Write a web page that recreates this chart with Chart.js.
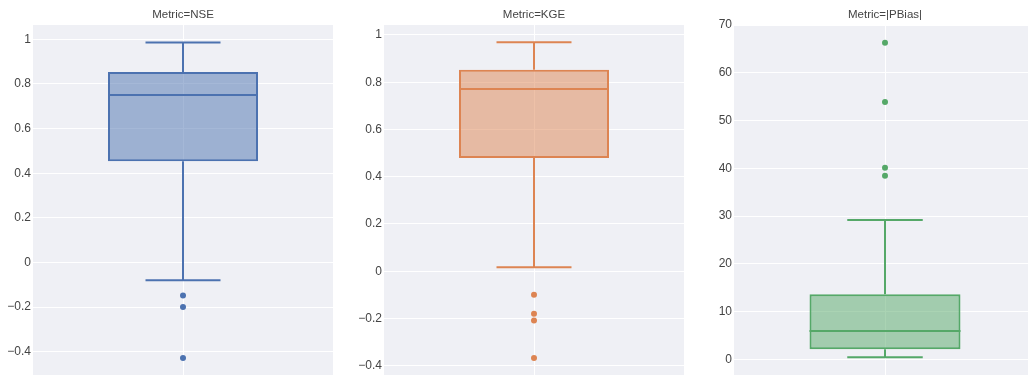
<!DOCTYPE html>
<html>
<head>
<meta charset="utf-8">
<script src="https://cdn.jsdelivr.net/npm/chart.js@4/dist/chart.umd.min.js"></script>
<style>
  html, body { margin: 0; padding: 0; background: #ffffff; width: 1028px; height: 375px; overflow: hidden; }
  canvas { position: absolute; top: 0; }
</style>
</head>
<body>
<canvas id="panel0" width="333" height="375" style="left:0px"></canvas>
<canvas id="panel1" width="333" height="375" style="left:351px"></canvas>
<canvas id="panel2" width="335" height="375" style="left:701px"></canvas>
<script>
// Box-plot summary per metric
const metrics = ['NSE', 'KGE', '|PBias|'];
const lowerWhisker = [-0.079, 0.017, 0.42];
const q1Values = [0.454, 0.479, 2.09];
const medianValues = [0.750, 0.771, 5.93];
const q3Values = [0.853, 0.853, 13.61];
const upperWhisker = [0.986, 0.969, 29.17];

// Points beyond the whiskers
const outliersNSE = [-0.148, -0.199, -0.428];
const outliersKGE = [-0.099, -0.180, -0.208, -0.367];
const outliersPBias = [38.44, 40.12, 53.87, 66.29];

// Y-axis tick values
const ticksNSE = [-0.4, -0.2, 0, 0.2, 0.4, 0.6, 0.8, 1];
const ticksKGE = [-0.4, -0.2, 0, 0.2, 0.4, 0.6, 0.8, 1];
const ticksPBias = [0, 10, 20, 30, 40, 50, 60, 70];

const panels = [
  { outliers: outliersNSE, ticks: ticksNSE, min: -0.504, max: 1.064, rgb: '76,114,176' },
  { outliers: outliersKGE, ticks: ticksKGE, min: -0.439, max: 1.042, rgb: '221,132,82' },
  { outliers: outliersPBias, ticks: ticksPBias, min: -3.29, max: 70.0, rgb: '85,168,104' }
];

const FONT = "'Liberation Sans', Arial, sans-serif";

// Fills the plotting area with the light panel colour
const plotBackground = {
  id: 'plotBackground',
  beforeDraw(chart) {
    const { ctx, chartArea: a } = chart;
    ctx.save();
    ctx.fillStyle = '#EFF0F5';
    ctx.fillRect(a.left, a.top, a.width, a.height);
    ctx.restore();
  }
};

// Whiskers, caps and median line, positioned through the y scale
const boxWhiskers = {
  id: 'boxWhiskers',
  afterDatasetsDraw(chart, args, opts) {
    const i = opts.index;
    const bar = chart.getDatasetMeta(0).data[0];
    const ys = chart.scales.y;
    const py = v => ys.getPixelForValue(v);
    const cx = bar.x;
    const half = bar.width / 2;
    const cap = bar.width / 4;
    const ctx = chart.ctx;
    ctx.save();
    ctx.strokeStyle = opts.color;
    ctx.lineWidth = 2;
    ctx.lineCap = 'butt';
    const seg = (x1, y1, x2, y2) => { ctx.beginPath(); ctx.moveTo(x1, y1); ctx.lineTo(x2, y2); ctx.stroke(); };
    seg(cx, py(q3Values[i]), cx, py(upperWhisker[i]));
    seg(cx, py(q1Values[i]), cx, py(lowerWhisker[i]));
    seg(cx - cap, py(upperWhisker[i]), cx + cap, py(upperWhisker[i]));
    seg(cx - cap, py(lowerWhisker[i]), cx + cap, py(lowerWhisker[i]));
    seg(cx - half, py(medianValues[i]), cx + half, py(medianValues[i]));
    ctx.restore();
  }
};

const fmt = v => {
  const s = String(Number(v.toFixed(1)));
  return s.replace('-', '\u2212');
};

panels.forEach((p, i) => {
  const solid = 'rgb(' + p.rgb + ')';
  const faded = 'rgba(' + p.rgb + ',0.5)';
  new Chart(document.getElementById('panel' + i), {
    type: 'bar',
    data: {
      labels: [metrics[i]],
      datasets: [
        {
          type: 'bar',
          data: [[q1Values[i], q3Values[i]]],
          backgroundColor: faded,
          borderColor: solid,
          borderWidth: 2,
          borderSkipped: false,
          barPercentage: 0.5,
          categoryPercentage: 1
        },
        {
          type: 'line',
          data: p.outliers.map(v => ({ x: metrics[i], y: v })),
          showLine: false,
          pointRadius: 3,
          pointHoverRadius: 3,
          pointBackgroundColor: solid,
          pointBorderWidth: 0
        }
      ]
    },
    options: {
      responsive: false,
      animation: false,
      events: [],
      layout: { padding: 0, autoPadding: false },
      plugins: {
        legend: { display: false },
        tooltip: { enabled: false },
        title: {
          display: true,
          text: 'Metric=' + metrics[i],
          fullSize: false,
          color: '#444',
          font: { family: FONT, size: 11.5, weight: 'normal' },
          padding: { top: 8, bottom: 3.2 }
        },
        boxWhiskers: { index: i, color: solid }
      },
      scales: {
        x: {
          type: 'category',
          offset: true,
          grid: { color: '#ffffff', lineWidth: 1, offset: false, drawTicks: false },
          border: { display: false },
          ticks: { display: false }
        },
        y: {
          min: p.min,
          max: p.max,
          afterBuildTicks: s => { s.ticks = p.ticks.map(v => ({ value: v })); },
          afterFit: s => { s.width = 33; s.paddingTop = 0; s.paddingBottom = 0; },
          grid: { color: '#ffffff', lineWidth: 1, drawTicks: false },
          border: { display: false },
          ticks: {
            padding: 2,
            color: '#444',
            font: { family: FONT, size: 12 },
            callback: v => fmt(v)
          }
        }
      }
    },
    plugins: [plotBackground, boxWhiskers]
  });
});
</script>
</body>
</html>
